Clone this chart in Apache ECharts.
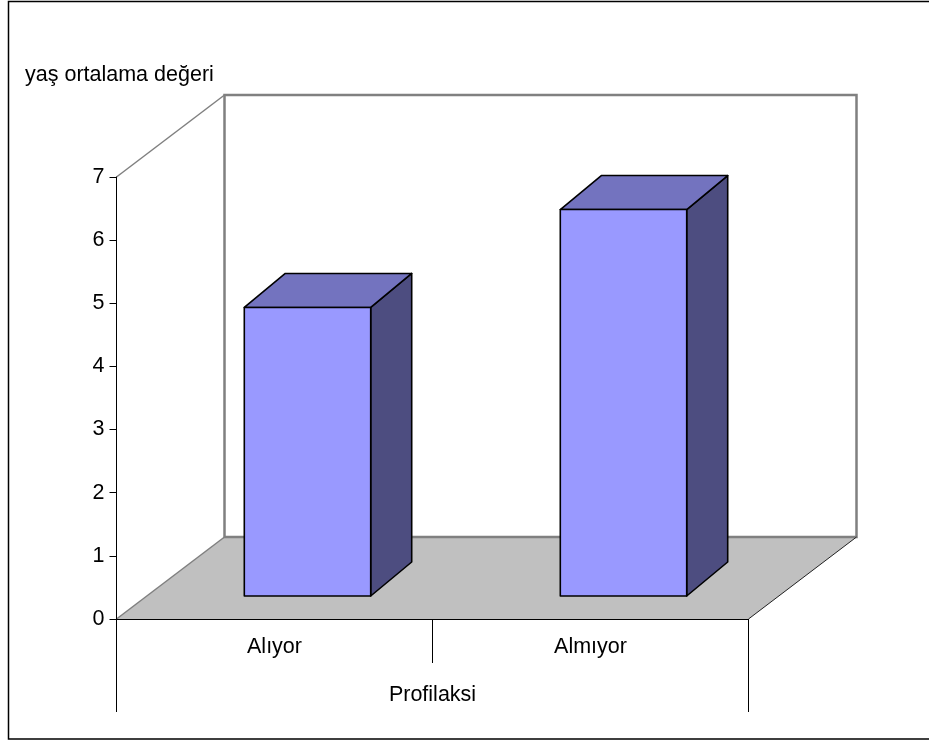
<!DOCTYPE html>
<html>
<head>
<meta charset="utf-8">
<script src="https://cdn.jsdelivr.net/npm/echarts@6/dist/echarts.min.js"></script>
<style>
  html, body { margin: 0; padding: 0; background: #fff; }
  #chart { width: 929px; height: 742px; }
</style>
</head>
<body>
<div id="chart"></div>
<script>
// Mean age by prophylaxis group
const categories = ['Alıyor', 'Almıyor'];
const meanValues = [4.57, 6.12];
const yTicks = [0, 1, 2, 3, 4, 5, 6, 7];
const groupName = ['Profilaksi'];
const yTitle = 'yaş ortalama değeri';

const FONT = '"Liberation Sans", Arial, sans-serif';
const FONT_SIZE = 21.5;
const yMax = yTicks[yTicks.length - 1];
const yStep = yTicks[1] - yTicks[0];

// oblique projection offsets (pixels) for the 3D look
const DEPTH = [108, -82];   // floor / wall depth
const BAR_FRONT = [33, -23]; // front face of the columns
const BAR_BACK = [74, -57];  // back face of the columns

const chart = echarts.init(document.getElementById('chart'), null, { renderer: 'canvas' });

function renderScene(params, api) {
  const bw = api.size([1, 0])[0];
  const p0 = api.coord([0, 0]);
  const p1 = api.coord([categories.length - 1, 0]);
  const left = p0[0] - bw / 2;
  const right = p1[0] + bw / 2;
  const y0 = p0[1];
  const yT = api.coord([0, yMax])[1];
  const dx = DEPTH[0], dy = DEPTH[1];
  const grey = '#808080';
  return {
    type: 'group',
    children: [
      { // floor
        type: 'polygon',
        shape: { points: [[left, y0], [right, y0], [right + dx, y0 + dy], [left + dx, y0 + dy]] },
        style: { fill: '#C0C0C0', stroke: null }
      },
      { // back wall
        type: 'rect',
        shape: { x: left + dx, y: yT + dy, width: right - left, height: y0 - yT },
        style: { fill: null, stroke: grey, lineWidth: 2.5 }
      },
      { // side wall top edge
        type: 'line',
        shape: { x1: left, y1: yT, x2: left + dx, y2: yT + dy },
        style: { stroke: grey, lineWidth: 1.5 }
      },
      { // floor left edge
        type: 'line',
        shape: { x1: left, y1: y0, x2: left + dx, y2: y0 + dy },
        style: { stroke: grey, lineWidth: 1.5 }
      },
      { // floor right edge
        type: 'line',
        shape: { x1: right, y1: y0, x2: right + dx, y2: y0 + dy },
        style: { stroke: '#222', lineWidth: 1 }
      }
    ]
  };
}

function renderColumn(params, api) {
  const i = api.value(0);
  const v = api.value(1);
  const base = api.coord([i, 0]);
  const top = api.coord([i, v]);
  const w = api.size([1, 0])[0] * 0.4;
  const xl = base[0] - w / 2, xr = base[0] + w / 2;
  const yb = base[1], yt = top[1];
  const F = BAR_FRONT, B = BAR_BACK;
  const edge = { stroke: '#000', lineWidth: 1.6, lineJoin: 'round' };
  return {
    type: 'group',
    children: [
      {
        type: 'polygon',
        shape: { points: [[xr + F[0], yt + F[1]], [xr + B[0], yt + B[1]], [xr + B[0], yb + B[1]], [xr + F[0], yb + F[1]]] },
        style: Object.assign({ fill: '#4D4D80' }, edge)
      },
      {
        type: 'polygon',
        shape: { points: [[xl + F[0], yt + F[1]], [xl + B[0], yt + B[1]], [xr + B[0], yt + B[1]], [xr + F[0], yt + F[1]]] },
        style: Object.assign({ fill: '#7373BF' }, edge)
      },
      {
        type: 'polygon',
        shape: { points: [[xl + F[0], yt + F[1]], [xr + F[0], yt + F[1]], [xr + F[0], yb + F[1]], [xl + F[0], yb + F[1]]] },
        style: Object.assign({ fill: '#9999FF' }, edge)
      }
    ]
  };
}

const option = {
  backgroundColor: '#fff',
  animation: false,
  textStyle: { fontFamily: FONT },
  grid: { left: 116.5, right: 180.5, top: 177, bottom: 123, containLabel: false },
  xAxis: [
    {
      type: 'category',
      data: categories,
      position: 'bottom',
      z: 10,
      axisLine: { show: true, lineStyle: { color: '#000', width: 1 } },
      axisTick: { show: true, length: 44, lineStyle: { color: '#000', width: 1 } },
      axisLabel: { color: '#000', fontSize: FONT_SIZE, fontFamily: FONT, margin: 17 },
      splitLine: { show: false }
    },
    {
      type: 'category',
      data: groupName,
      position: 'bottom',
      offset: 0,
      z: 10,
      axisLine: { show: false },
      axisTick: { show: true, length: 93, lineStyle: { color: '#000', width: 1 } },
      axisLabel: { color: '#000', fontSize: FONT_SIZE, fontFamily: FONT, margin: 65 },
      splitLine: { show: false }
    }
  ],
  yAxis: {
    type: 'value',
    min: yTicks[0],
    max: yMax,
    interval: yStep,
    z: 10,
    axisLine: { show: true, lineStyle: { color: '#000', width: 1 } },
    axisTick: { show: true, length: 7, lineStyle: { color: '#000', width: 1 } },
    axisLabel: { color: '#000', fontSize: FONT_SIZE, fontFamily: FONT, margin: 12 },
    splitLine: { show: false }
  },
  graphic: [
    {
      type: 'rect',
      shape: { x: 8.5, y: 1.5, width: 940, height: 737.5 },
      style: { fill: null, stroke: '#000', lineWidth: 1.5 },
      silent: true
    },
    {
      type: 'text',
      x: 25,
      y: 64,
      style: { text: yTitle, font: FONT_SIZE + 'px ' + FONT, fill: '#000', textVerticalAlign: 'top' },
      silent: true
    }
  ],
  series: [
    {
      type: 'custom',
      name: 'scene',
      xAxisIndex: 0,
      yAxisIndex: 0,
      z: 1,
      silent: true,
      data: [[0, 0]],
      renderItem: renderScene
    },
    {
      type: 'custom',
      name: yTitle,
      xAxisIndex: 0,
      yAxisIndex: 0,
      z: 3,
      data: meanValues.map((v, i) => [i, v]),
      encode: { x: 0, y: 1 },
      renderItem: renderColumn
    }
  ]
};

chart.setOption(option);
</script>
</body>
</html>
